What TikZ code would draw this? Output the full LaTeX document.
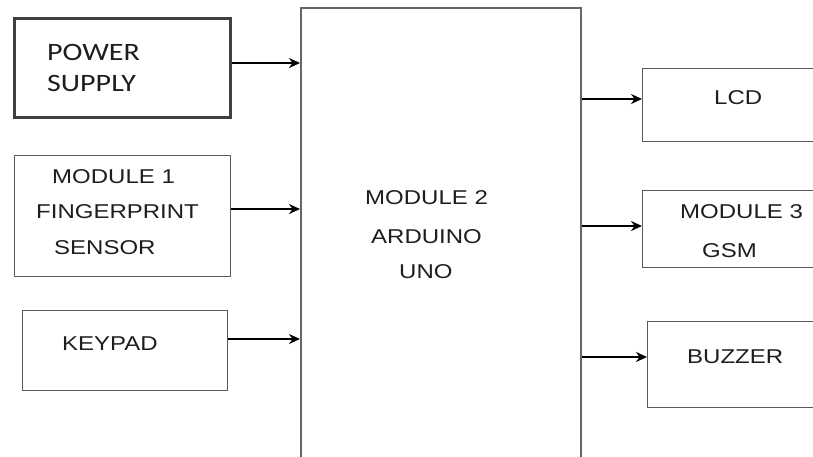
\documentclass[tikz,border=0pt]{standalone}
\usepackage{fontspec}
\setmainfont{Liberation Sans}[FakeStretch=1.2]
\newfontfamily\calfont{Carlito}[FakeStretch=1.2]
\usetikzlibrary{arrows.meta}
\definecolor{edge}{HTML}{5A5A5A}
\definecolor{ink}{HTML}{1E1E1E}
\tikzset{
  blk/.style={draw=edge, line width=1.4pt, fill=white, inner sep=0pt, anchor=north west},
  lbl/.style={anchor=west, inner sep=0pt, text=ink, font=\fontsize{20}{20}\selectfont},
  clbl/.style={anchor=west, inner sep=0pt, text=ink, font=\calfont\fontsize{25}{25}\selectfont},
  link/.style={line width=2.2pt, black, -{Stealth[length=11pt,width=10pt]}}
}
\begin{document}
\begin{tikzpicture}[x=1pt,y=-1pt]
\useasboundingbox (0,0) rectangle (813,456);
\clip (0,0) rectangle (813,456);
% boxes
\node[blk, line width=2.6pt, draw=black!75, minimum width=216pt, minimum height=99pt] (pw) at (13,17) {};
\node[blk, minimum width=216pt, minimum height=121pt] (m1) at (14,155) {};
\node[blk, minimum width=205pt, minimum height=80pt] (kp) at (22,310) {};
\node[blk, line width=1.8pt, draw=black!60, minimum width=280pt, minimum height=480pt] (main) at (300,7) {};
\node[blk, minimum width=200pt, minimum height=73pt] (lcd) at (642,68) {};
\node[blk, minimum width=200pt, minimum height=77pt] (gsm) at (642,190) {};
\node[blk, minimum width=200pt, minimum height=86pt] (bz) at (647,321) {};
% texts
\node[clbl] (t1) at (47,52) {POWER};
\node[clbl] (t2) at (47,83) {SUPPLY};
\node[lbl] (t3) at (52,177) {MODULE 1};
\node[lbl] (t4) at (36,212) {FINGERPRINT};
\node[lbl] (t5) at (54,248) {SENSOR};
\node[lbl] (t6) at (62,344) {KEYPAD};
\node[lbl] (t7) at (365,198) {MODULE 2};
\node[lbl] (t8) at (371,237) {ARDUINO};
\node[lbl] (t9) at (399,272) {UNO};
\node[lbl] (t10) at (714,98) {LCD};
\node[lbl] (t11) at (680,212) {MODULE 3};
\node[lbl] (t12) at (702,251) {GSM};
\node[lbl] (t13) at (687,357) {BUZZER};
% anchor points on the main box
\coordinate (a1) at (pw.east |- 0,63);
\coordinate (a2) at (m1.east |- 0,209);
\coordinate (a3) at (kp.east |- 0,339);
\coordinate (b1) at (main.east |- 0,99);
\coordinate (b2) at (main.east |- 0,226);
\coordinate (b3) at (main.east |- 0,357);
% connectors
\draw[link] (a1) -- (a1 -| main.west);
\draw[link] (a2) -- (a2 -| main.west);
\draw[link] (a3) -- (a3 -| main.west);
\draw[link] (b1) -- (b1 -| lcd.west);
\draw[link] (b2) -- (b2 -| gsm.west);
\draw[link] (b3) -- (b3 -| bz.west);
\end{tikzpicture}
\end{document}
